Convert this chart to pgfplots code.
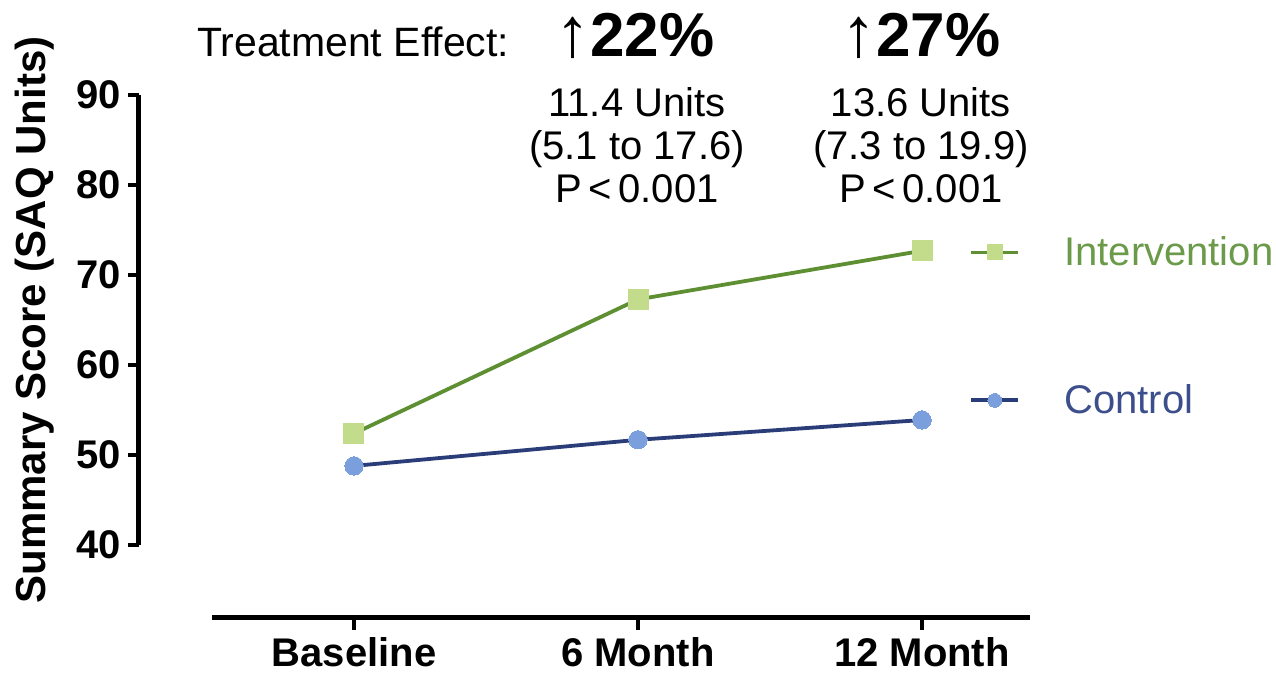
\documentclass[border=0pt]{standalone}
\usepackage{pgfplots}
\pgfplotsset{compat=1.18}
\usepackage{fontspec}
\setmainfont{Liberation Sans}
\definecolor{intline}{HTML}{5E8F32}
\definecolor{intmark}{HTML}{C2DC8C}
\definecolor{inttext}{HTML}{6A9A4A}
\definecolor{ctlline}{HTML}{2A3D78}
\definecolor{ctlmark}{HTML}{7A9FDC}
\definecolor{ctltext}{HTML}{3C4F8C}
\newcommand{\uparr}{{\fontsize{35}{36}\selectfont ↑}}
\begin{document}
\begin{tikzpicture}
% x axis and data
\begin{axis}[
  at={(0,0)}, anchor=south west,
  x=142pt, y=4.5pt,
  xmin=-0.5, xmax=2.38, ymin=31.9, ymax=90,
  axis x line=bottom, axis y line=none,
  axis line style={-, line width=2.5pt, black},
  xtick={0,1,2}, xticklabels={Baseline,6 Month,12 Month},
  tick align=outside, major tick length=6pt,
  tick style={line width=2pt, black},
  xticklabel style={font=\bfseries\fontsize{20}{24}\selectfont},
  clip=false,
  legend style={draw=none, fill=none, at={(axis cs:2.165,64.3)}, anchor=west,
    font=\fontsize{20}{24}\selectfont, row sep=58pt, inner sep=0pt,
    nodes={inner sep=0pt}},
  legend cell align=left,
  /tikz/every odd column/.append style={column sep=22pt},
  legend image code/.code={\draw[mark repeat=2,mark phase=2,every mark/.append style={scale=0.75}] plot coordinates {(0cm,0cm) (0.415cm,0cm) (0.83cm,0cm)};},
]
\addplot[intline, line width=1.9pt, mark=square*, mark size=5pt,
  mark options={fill=intmark, draw=intmark, line width=0pt}]
  coordinates {(0,52.4) (1,67.3) (2,72.7)};
\addlegendentry{\textcolor{inttext}{Intervention}}
\addplot[ctlline, line width=1.9pt, mark=*, mark size=4.6pt,
  mark options={fill=ctlmark, draw=ctlmark, line width=0pt}]
  coordinates {(0,48.8) (1,51.7) (2,53.9)};
\addlegendentry{\textcolor{ctltext}{Control}}
\end{axis}
% y axis
\begin{axis}[
  at={(-36.5pt,36.5pt)}, anchor=south west,
  x=142pt, y=4.5pt,
  xmin=-0.754, xmax=2.38, ymin=40, ymax=90,
  axis y line=left, axis x line=none,
  axis line style={-, line width=2.5pt, black},
  ytick={40,50,60,70,80,90},
  tick align=outside, major tick length=5.5pt,
  tick style={line width=2pt, black},
  yticklabel style={font=\bfseries\fontsize{20}{24}\selectfont},
  /pgf/number format/assume math mode=true,
  ylabel={\bfseries\fontsize{21}{25}\selectfont Summary Score (SAQ Units)},
  every axis y label/.style={at={(rel axis cs:-0.117,0.5)}, rotate=90, anchor=center},
]
\end{axis}
% annotations
\node[anchor=base west, font=\fontsize{20.5}{24}\selectfont] at (-11pt,280.5pt) {Treatment Effect:};
\node[anchor=base, font=\fontsize{31}{36}\selectfont] at (211.5pt,280.5pt) {\uparr\textbf{22\%}};
\node[anchor=base, font=\fontsize{31}{36}\selectfont] at (354.5pt,280.5pt) {\uparr\textbf{27\%}};
\node[anchor=base, font=\fontsize{20}{24}\selectfont] at (212.5pt,250.5pt) {11.4 Units};
\node[anchor=base, font=\fontsize{20}{24}\selectfont] at (212.5pt,229pt) {(5.1 to 17.6)};
\node[anchor=base, font=\fontsize{20}{24}\selectfont] at (212.5pt,207.5pt) {P\,<\,0.001};
\node[anchor=base, font=\fontsize{20}{24}\selectfont] at (354.5pt,250.5pt) {13.6 Units};
\node[anchor=base, font=\fontsize{20}{24}\selectfont] at (354.5pt,229pt) {(7.3 to 19.9)};
\node[anchor=base, font=\fontsize{20}{24}\selectfont] at (354.5pt,207.5pt) {P\,<\,0.001};
\pgfresetboundingbox
\path (-106pt,-31pt) rectangle (532pt,309pt);
\end{tikzpicture}
\end{document}
